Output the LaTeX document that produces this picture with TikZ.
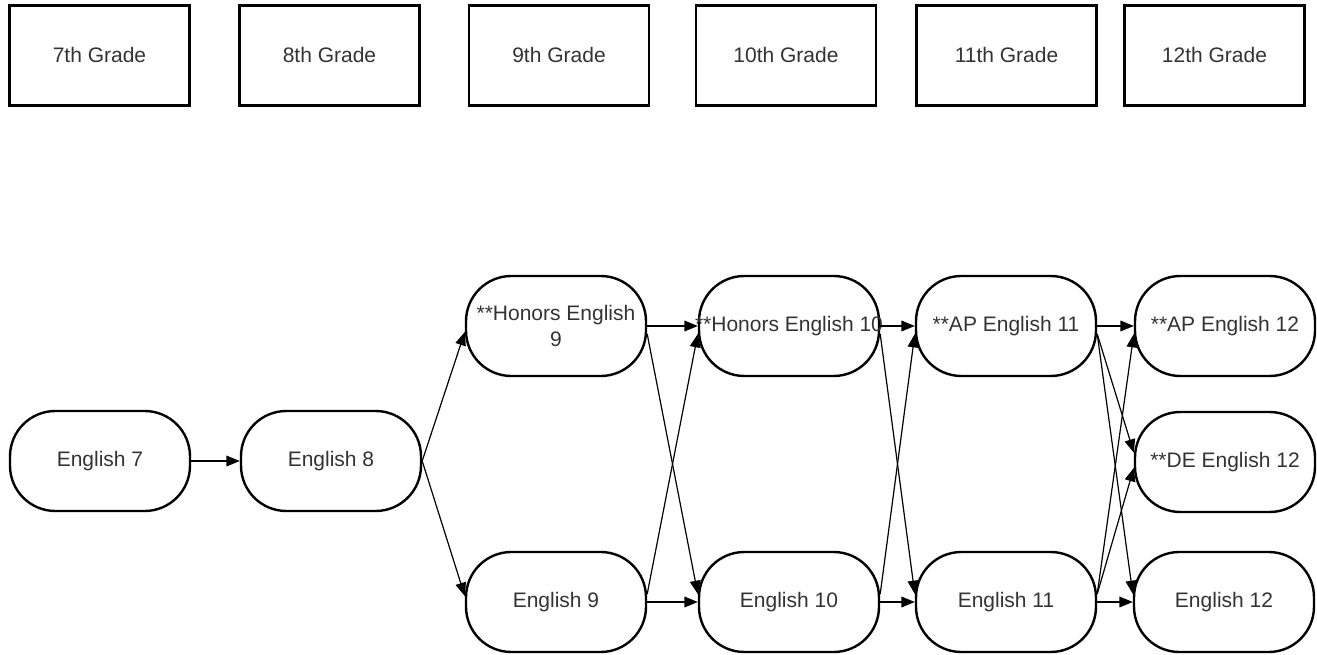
\documentclass[tikz,border=0pt]{standalone}
\usepackage{fontspec}
\setmainfont{Liberation Sans}
\usetikzlibrary{arrows.meta}
\begin{document}
\begin{tikzpicture}[x=0.75pt,y=-0.75pt,
  grade/.style={draw, line width=2pt, minimum width=135pt, minimum height=75pt, inner sep=0pt,
    font=\fontsize{15.75}{19}\selectfont, text=black!80},
  course/.style={draw, line width=1.8pt, rounded corners=34pt, minimum width=135pt, minimum height=75pt,
    inner sep=0pt, align=center, font=\fontsize{15.75}{19}\selectfont, text=black!80},
  link/.style={line width=0.9pt, -{Triangle[length=10pt,width=8pt]}}]
\useasboundingbox (0,0) rectangle (1317,655);
% grade headers
\node[grade] (g7)  at (99.5,55.5)   {7th Grade};
\node[grade] (g8)  at (329.5,55.5)  {8th Grade};
\node[grade] (g9)  at (559,55.5)    {9th Grade};
\node[grade] (g10) at (786,55.5)    {10th Grade};
\node[grade] (g11) at (1006.5,55.5) {11th Grade};
\node[grade] (g12) at (1214.5,55.5) {12th Grade};
% courses
\node[course] (e7)   at (100,461)  {English 7};
\node[course] (e8)   at (331,461)  {English 8};
\node[course] (h9)   at (556,326)  {**Honors English\\9};
\node[course] (e9)   at (556,602)  {English 9};
\node[course] (h10)  at (789,326)  {\makebox[0pt]{**Honors English 10}};
\node[course] (e10)  at (789,602)  {English 10};
\node[course] (ap11) at (1006,326) {**AP English 11};
\node[course] (e11)  at (1006,602) {English 11};
\node[course] (ap12) at (1225,326) {**AP English 12};
\node[course] (de12) at (1225,462) {**DE English 12};
\node[course] (e12)  at (1224,602) {English 12};
% connectors
\draw[link] (e7.east) -- (e8.west);
\draw[link] (e8.east) -- ([yshift=-4.5pt]h9.west);
\draw[link] (e8.east) -- ([yshift=4.5pt]e9.west);
\draw[link] (h9.east) -- (h10.west);
\draw[link] ([yshift=-6pt]h9.east) -- ([yshift=6pt]e10.west);
\draw[link] ([yshift=6pt]e9.east) -- ([yshift=-6pt]h10.west);
\draw[link] (e9.east) -- (e10.west);
\draw[link] (h10.east) -- (ap11.west);
\draw[link] ([yshift=-6pt]h10.east) -- ([yshift=6pt]e11.west);
\draw[link] ([yshift=6pt]e10.east) -- ([yshift=-6pt]ap11.west);
\draw[link] (e10.east) -- (e11.west);
\draw[link] (ap11.east) -- (ap12.west);
\draw[link] ([yshift=-6pt]ap11.east) -- ([yshift=7pt]de12.west);
\draw[link] ([yshift=-6pt]ap11.east) -- ([yshift=6pt]e12.west);
\draw[link] ([yshift=6pt]e11.east) -- ([yshift=-6pt]ap12.west);
\draw[link] ([yshift=6pt]e11.east) -- ([yshift=-4.5pt]de12.west);
\draw[link] (e11.east) -- (e12.west);
\end{tikzpicture}
\end{document}
